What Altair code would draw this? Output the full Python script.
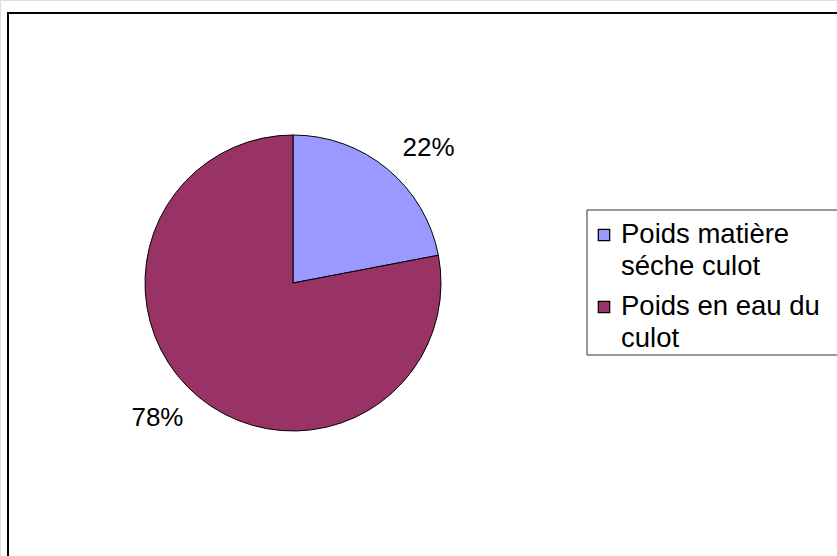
import altair as alt
import pandas as pd

categories = ["Poids matière séche culot", "Poids en eau du culot"]
values = [22, 78]
colors = ["#9999FF", "#993366"]
legend_line1 = ["Poids matière", "Poids en eau du"]
legend_line2 = ["séche culot", "culot"]

df = pd.DataFrame({
    "category": categories,
    "value": values,
    "order": [0, 1],
    "line1": legend_line1,
    "line2": legend_line2,
})

FONT = "Liberation Sans"
FS = 26
FS_LEG = 27.5
color_scale = alt.Scale(domain=categories, range=colors)
base = alt.Chart(df)

border = base.mark_rect(fill=None, stroke="black", strokeWidth=2).encode(
    x=alt.value(8), x2=alt.value(900), y=alt.value(13), y2=alt.value(700)
).transform_filter("datum.order == 0")

pie = base.mark_arc(stroke="black", strokeWidth=1, radius=148).encode(
    theta=alt.Theta("value:Q", stack=True),
    color=alt.Color("category:N", scale=color_scale, legend=None),
    order=alt.Order("order:Q"),
    x=alt.value(293), y=alt.value(283),
)

labels = base.transform_joinaggregate(total="sum(value)").transform_calculate(
    pct="format(datum.value / datum.total, '.0%')"
).mark_text(radius=191, thetaOffset=0.098, font=FONT, fontSize=FS, color="black",
            align="center", baseline="middle").encode(
    theta=alt.Theta("value:Q", stack=True),
    order=alt.Order("order:Q"),
    text="pct:N",
    x=alt.value(293), y=alt.value(283),
)

legend_box = base.mark_rect(fill="white", stroke="#333333", strokeWidth=1).encode(
    x=alt.value(587), x2=alt.value(900), y=alt.value(210), y2=alt.value(355)
).transform_filter("datum.order == 0")

yscale = alt.Scale(type="point", domain=categories, range=[235, 307], padding=0)

symbols = base.mark_square(size=130, stroke="black", strokeWidth=1.2, opacity=1).encode(
    x=alt.value(604),
    y=alt.Y("category:N", scale=yscale, axis=None),
    color=alt.Color("category:N", scale=color_scale, legend=None),
)

text1 = base.mark_text(font=FONT, fontSize=FS_LEG, align="left", baseline="middle", color="black").encode(
    x=alt.value(621),
    y=alt.Y("category:N", scale=yscale, axis=None),
    text="line1:N",
)
text2 = base.mark_text(font=FONT, fontSize=FS_LEG, align="left", baseline="middle", color="black", dy=32).encode(
    x=alt.value(621),
    y=alt.Y("category:N", scale=yscale, axis=None),
    text="line2:N",
)

chart = alt.layer(border, pie, labels, legend_box, symbols, text1, text2).properties(
    width=837, height=556, autosize=alt.AutoSizeParams(type="none"), padding=0
).configure_view(stroke=None).configure(background="white")

chart.save("out.html", embed_options={"renderer": "svg", "actions": False})
